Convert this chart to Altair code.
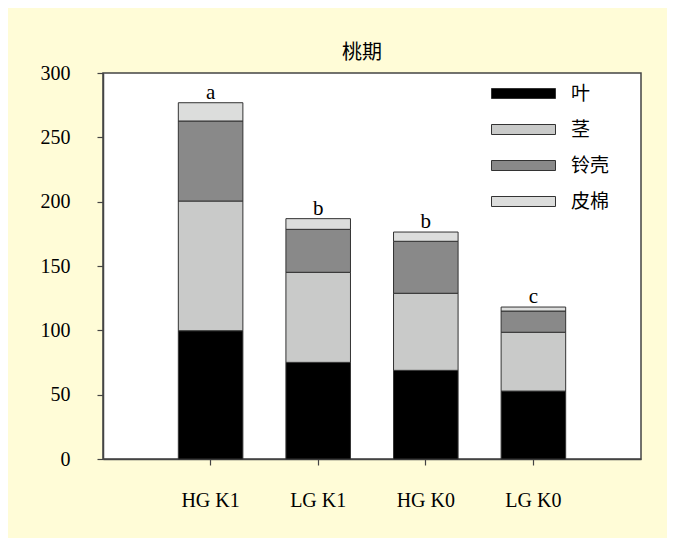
import altair as alt
import pandas as pd

groups = ["HG K1", "LG K1", "HG K0", "LG K0"]
parts = ["叶", "茎", "铃壳", "皮棉"]
leaf = [99.7, 75.1, 68.9, 52.8]
stem = [100.8, 70.0, 59.9, 45.7]
boll_shell = [62.2, 33.4, 40.4, 16.5]
lint = [14.2, 8.3, 7.2, 3.1]
letters = ["a", "b", "b", "c"]
colors = ["#000000", "#C9CAC9", "#898989", "#DCDDDC"]
y_ticks = [0, 50, 100, 150, 200, 250, 300]

series = [leaf, stem, boll_shell, lint]
rows = []
for i, g in enumerate(groups):
    for j, p in enumerate(parts):
        rows.append({"group": g, "part": p, "value": series[j][i], "order": j})
df = pd.DataFrame(rows)
tot = pd.DataFrame({
    "group": groups,
    "total": [sum(v) for v in zip(*series)],
    "letter": letters,
})

SERIF = "Liberation Serif"
CJK = "Noto Sans CJK SC"
AX = "#444444"

x_axis = alt.Axis(title=None, labelAngle=0, labelFont=SERIF, labelFontSize=20,
                  labelColor="black", tickSize=6, tickColor=AX, domainColor=AX,
                  domainWidth=1.5, tickWidth=1.2, labelPadding=25)
y_axis = alt.Axis(title=None, values=y_ticks, grid=False, labelFont=SERIF,
                  labelFontSize=20, labelColor="black", tickSize=6, tickColor=AX,
                  domainColor=AX, domainWidth=1.5, tickWidth=1.2, labelPadding=27)
x_scale = alt.Scale(paddingInner=0.4, paddingOuter=0.7)
y_scale = alt.Scale(domain=[0, 300], nice=False)

legend = alt.Legend(
    title=None, orient="none", legendX=411, legendY=11, padding=0,
    symbolType="M-6.4,-1L6.4,-1L6.4,1L-6.4,1Z", symbolSize=100,
    symbolStrokeColor="#333333", symbolStrokeWidth=1, symbolOpacity=1,
    labelFont=CJK, labelFontSize=19, labelColor="black", labelOffset=38,
    rowPadding=16,
)

bars = alt.Chart(df).mark_bar(stroke="#333333", strokeWidth=1).encode(
    x=alt.X("group:N", sort=groups, scale=x_scale, axis=x_axis),
    y=alt.Y("value:Q", stack="zero", scale=y_scale, axis=y_axis),
    color=alt.Color("part:N", scale=alt.Scale(domain=parts, range=colors), legend=legend),
    order=alt.Order("order:Q", sort="ascending"),
)

text = alt.Chart(tot).mark_text(
    baseline="alphabetic", dy=-4, font=SERIF, fontSize=21, color="black"
).encode(
    x=alt.X("group:N", sort=groups, scale=x_scale, axis=x_axis),
    y=alt.Y("total:Q", scale=y_scale, axis=y_axis),
    text="letter:N",
)

chart = alt.layer(bars, text).properties(
    width=538, height=386,
    title=alt.TitleParams("桃期", font=CJK, fontSize=20, fontWeight="normal",
                          color="black", offset=0, dx=-10),
    padding={"left": 95, "top": 65, "right": 26, "bottom": 79},
    autosize=alt.AutoSizeParams(type="none"),
    background="#FFFCD7",
).configure_view(fill="white", stroke=AX, strokeWidth=1.5)

chart.save("out.html", embed_options={"renderer": "svg", "actions": False})
